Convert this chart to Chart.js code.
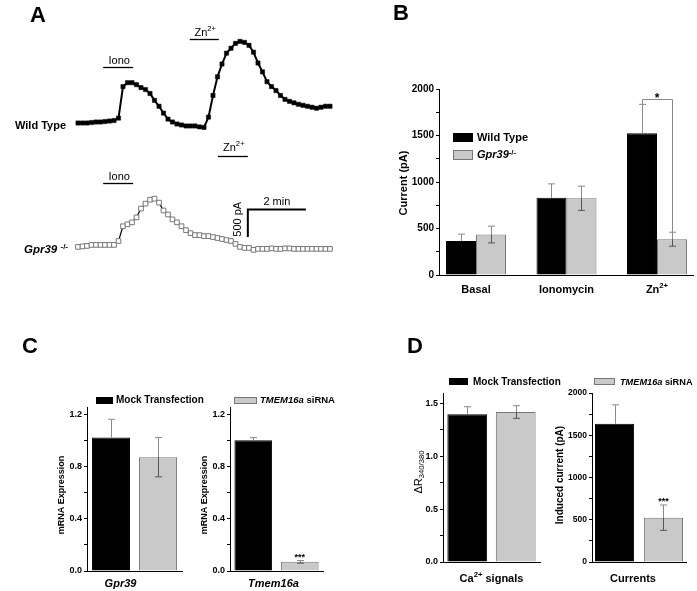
<!DOCTYPE html>
<html>
<head>
<meta charset="utf-8">
<script src="https://cdn.jsdelivr.net/npm/chart.js@4.4.0/dist/chart.umd.min.js"></script>
<style>
  body { margin: 0; background: #fff; }
  #fig { position: relative; width: 697px; height: 591px; overflow: hidden; font-family: "Liberation Sans", Arial, sans-serif; }
  #fig canvas { position: absolute; left: 0; top: 0; }
  .t { position: absolute; white-space: nowrap; color: #000; font-weight: bold; }
  .t sup { font-size: 0.7em; vertical-align: 0.45em; line-height: 0; }
  .letter { font-size: 22px; line-height: 22px; }
  .sw { position: absolute; box-sizing: border-box; }
  .sw.k { background: #000; border: 1px solid #000; }
  .sw.g { background: #c9c9c9; border: 1px solid #777; }
</style>
</head>
<body>
<div id="fig">
  <canvas id="cA" width="697" height="591"></canvas>
  <canvas id="cB" width="697" height="591"></canvas>
  <canvas id="cC1" width="697" height="591"></canvas>
  <canvas id="cC2" width="697" height="591"></canvas>
  <canvas id="cD1" width="697" height="591"></canvas>
  <canvas id="cD2" width="697" height="591"></canvas>

  <div class="t letter" style="left:30px;top:4px">A</div>
  <div class="t letter" style="left:393px;top:2px">B</div>
  <div class="t letter" style="left:22px;top:335px">C</div>
  <div class="t letter" style="left:407px;top:335px">D</div>

  <div class="t" style="left:15px;top:120px;font-size:11px;line-height:11px">Wild Type</div>
  <div class="t" style="left:24px;top:244px;font-size:11.5px;line-height:11px"><i>Gpr39</i> <sup>-/-</sup></div>

  <!-- legend B -->
  <div class="sw k" style="left:453px;top:133px;width:20px;height:9px"></div>
  <div class="t" style="left:477px;top:132px;font-size:11px;line-height:11px">Wild Type</div>
  <div class="sw g" style="left:453px;top:150px;width:20px;height:10px"></div>
  <div class="t" style="left:477px;top:149px;font-size:11px;line-height:11px"><i>Gpr39</i><sup>-/-</sup></div>

  <!-- legend C -->
  <div class="sw k" style="left:96px;top:397px;width:17px;height:7px"></div>
  <div class="t" style="left:116px;top:395px;font-size:10px;line-height:10px">Mock Transfection</div>
  <div class="sw g" style="left:234px;top:397px;width:23px;height:7px"></div>
  <div class="t" style="left:260px;top:395px;font-size:9.5px;line-height:10px"><i>TMEM16a</i> siRNA</div>

  <!-- legend D -->
  <div class="sw k" style="left:449px;top:378px;width:19px;height:7px"></div>
  <div class="t" style="left:473px;top:377px;font-size:10px;line-height:10px">Mock Transfection</div>
  <div class="sw g" style="left:594px;top:378px;width:21px;height:7px"></div>
  <div class="t" style="left:620px;top:377px;font-size:9.2px;line-height:10px"><i>TMEM16a</i> siRNA</div>
</div>

<script>
// ---- data ----
// panel A: whole-cell current traces (pA above starting level), one sample every SAMPLE_S seconds
const SAMPLE_S = 9.3;
const wildTypeTrace = [0, 0, 0, 9, 18, 18, 27, 36, 45, 89,
  661, 732, 732, 696, 643, 607, 536, 411, 304, 179,
  71, 18, -18, -36, -54, -54, -54, -71, -80,
  107, 500, 839, 1071, 1268, 1357, 1446, 1482, 1464, 1411,
  1286, 1089, 929, 750, 661, 589, 500, 429, 393, 366,
  339, 321, 304, 286, 268, 286, 304, 304];
const gpr39Trace = [0, 9, 18, 36, 36, 36, 36, 36, 36, 107,
  375, 411, 446, 536, 696, 786, 857, 875, 804, 661,
  589, 500, 446, 375, 304, 250, 214, 214, 196, 196,
  179, 161, 143, 125, 107, 54, 0, -18, -18, -54,
  -36, -36, -36, -27, -36, -36, -27, -27, -36, -36,
  -36, -36, -36, -36, -36, -36, -36];

// panel B: mean currents (pA)
const bCategories = [[['Basal']], [['Ionomycin']], [['Zn'], ['2+', 'sup']]];
const bWildType = [365, 830, 1525];
const bWildTypeErr = [75, 150, 310];
const bGpr39 = [435, 825, 385];
const bGpr39Err = [90, 130, 75];
const bTicks = [0, 500, 1000, 1500, 2000];

// panel C: mRNA expression (Gpr39, Tmem16a)
const cMock = [1.02, 1.00];
const cMockErr = [0.14, 0.02];
const cSiRNA = [0.87, 0.07];
const cSiRNAErr = [0.15, 0.01];
const cTicks = [0, 0.4, 0.8, 1.2];

// panel D: Ca2+ signals (dR340/380) and induced currents (pA)
const dMock = [1.40, 1635];
const dMockErr = [0.07, 225];
const dSiRNA = [1.42, 525];
const dSiRNAErr = [0.06, 150];
const d1Ticks = [0, 0.5, 1.0, 1.5];
const d2Ticks = [0, 500, 1000, 1500, 2000];

// ---- helpers ----
const W = 697, H = 591;
const FONT = '"Liberation Sans", Arial, sans-serif';
const GREY = '#c9c9c9';

// draws text made of parts like [['Zn'], ['2+', 'sup']] centred on (x, y)
function richText(ctx, parts, x, y, size, opt = {}) {
  const weight = opt.weight || 'bold';
  const fontOf = (k, s) => (k.includes('i') ? 'italic ' : '') + weight + ' ' + s + 'px ' + FONT;
  const items = parts.map(([t, kind = '']) => {
    const k = kind.split(' ');
    const small = k.includes('sup') || k.includes('sub');
    const s = small ? size * 0.7 : size;
    ctx.font = fontOf(k, s);
    return { t, k, s, w: ctx.measureText(t).width };
  });
  const total = items.reduce((a, b) => a + b.w, 0);
  ctx.save();
  ctx.translate(x, y);
  if (opt.rotate) ctx.rotate(opt.rotate);
  ctx.fillStyle = '#000';
  ctx.textAlign = 'left';
  ctx.textBaseline = 'alphabetic';
  let cx = opt.align === 'left' ? 0 : -total / 2;
  items.forEach(it => {
    ctx.font = fontOf(it.k, it.s);
    let dy = size * 0.36;
    if (it.k.includes('sup')) dy -= size * 0.42;
    if (it.k.includes('sub')) dy += size * 0.22;
    ctx.fillText(it.t, cx, dy);
    cx += it.w;
  });
  ctx.restore();
}

const errorBars = {
  id: 'errorBars',
  afterDatasetsDraw(chart) {
    const ctx = chart.ctx, y = chart.scales.y;
    chart.data.datasets.forEach((ds, di) => {
      chart.getDatasetMeta(di).data.forEach((bar, i) => {
        const v = ds.data[i].y, e = ds.errors[i];
        const yv = y.getPixelForValue(v), yt = y.getPixelForValue(v + e), yb = y.getPixelForValue(v - e);
        const x = Math.round(bar.x) + 0.5, cap = 3.5;
        ctx.save();
        ctx.lineWidth = 1;
        ctx.strokeStyle = '#8a8a8a';
        ctx.beginPath();
        ctx.moveTo(x, yv); ctx.lineTo(x, yt);
        ctx.moveTo(x - cap, yt); ctx.lineTo(x + cap, yt);
        ctx.stroke();
        if (ds.innerErr) {
          ctx.strokeStyle = ds.innerErr;
          ctx.beginPath();
          ctx.moveTo(x, yv); ctx.lineTo(x, yb);
          ctx.moveTo(x - cap, yb); ctx.lineTo(x + cap, yb);
          ctx.stroke();
        }
        ctx.restore();
      });
    });
  }
};

function barChart(id, o) {
  const datasets = o.series.map(s => ({
    data: s.values.map((v, i) => ({ x: i, y: v })),
    errors: s.errors,
    innerErr: s.innerErr,
    backgroundColor: s.fill,
    borderColor: s.edge,
    borderWidth: 1,
    categoryPercentage: o.catPct,
    barPercentage: o.barPct
  }));
  // minor ticks halfway between labelled ones
  const allTicks = [];
  o.major.forEach((v, k) => {
    allTicks.push(v);
    if (k < o.major.length - 1) allTicks.push((v + o.major[k + 1]) / 2);
  });
  return new Chart(document.getElementById(id), {
    type: 'bar',
    data: { datasets },
    options: {
      responsive: false, animation: false, events: [], devicePixelRatio: 1,
      layout: { padding: { left: 0, top: o.area.t, right: W - o.area.r, bottom: 0 } },
      plugins: { legend: { display: false }, tooltip: { enabled: false } },
      scales: {
        x: {
          type: 'linear', min: o.xMin, max: o.xMax, offset: false,
          afterFit: s => { s.height = H - o.area.b; },
          afterBuildTicks: s => { s.ticks = o.labels.map((_, i) => ({ value: i })); },
          ticks: { display: false },
          grid: { display: false, offset: false },
          border: { display: true, color: '#000', width: 1 }
        },
        y: {
          min: o.yMin, max: o.yMax,
          afterFit: s => { s.width = o.area.l; },
          afterBuildTicks: s => { s.ticks = allTicks.map(v => ({ value: v })); },
          ticks: {
            autoSkip: false, padding: 2, color: '#000',
            font: { family: FONT, weight: 'bold', size: o.tickSize },
            callback: v => (o.major.includes(v) ? o.fmt(v) : '')
          },
          grid: { drawOnChartArea: false, drawTicks: true, tickLength: 3, color: '#000' },
          border: { display: true, color: '#000', width: 1 }
        }
      }
    },
    plugins: [errorBars, {
      id: 'texts',
      afterDraw(chart) {
        const ctx = chart.ctx, xs = chart.scales.x;
        richText(ctx, o.yTitle, o.yTitleAt[0], o.yTitleAt[1], o.yTitleSize,
          { rotate: -Math.PI / 2, weight: o.yTitleWeight });
        o.labels.forEach((parts, i) =>
          richText(ctx, parts, xs.getPixelForValue(i) + (o.labelDx || 0), o.labelY, o.labelSize));
        if (o.extra) o.extra(chart);
      }
    }]
  });
}

function stars(chart, di, i, text, size) {
  const ctx = chart.ctx, bar = chart.getDatasetMeta(di).data[i];
  const ds = chart.data.datasets[di];
  const top = chart.scales.y.getPixelForValue(ds.data[i].y + ds.errors[i]);
  ctx.save();
  ctx.fillStyle = '#000';
  ctx.font = 'bold ' + size + 'px ' + FONT;
  ctx.textAlign = 'center';
  ctx.textBaseline = 'alphabetic';
  ctx.fillText(text, bar.x, top - 1);
  ctx.restore();
}

// ---- panel A: traces ----
const PA_PER_PX = 500 / 28;
const traceMarks = {
  id: 'traceMarks',
  afterDraw(chart) {
    const { ctx, scales: { x, y, y2 } } = chart;
    const stim = [
      { s: y, t0: 52, t1: 114, v: 1018, gap: 3.5, label: [['Iono']] },
      { s: y, t0: 231, t1: 291, v: 1518, gap: 3.5, label: [['Zn'], ['2+', 'sup']] },
      { s: y2, t0: 52, t1: 114, v: 1161, gap: 4, label: [['Iono']] },
      { s: y2, t0: 289, t1: 351, v: 1643, gap: 5.5, label: [['Zn'], ['2+', 'sup']] }
    ];
    ctx.save();
    ctx.strokeStyle = '#000';
    stim.forEach(b => {
      const py = Math.round(b.s.getPixelForValue(b.v)) + 0.5;
      const x0 = x.getPixelForValue(b.t0), x1 = x.getPixelForValue(b.t1);
      ctx.lineWidth = 1.3;
      ctx.beginPath(); ctx.moveTo(x0, py); ctx.lineTo(x1, py); ctx.stroke();
      richText(ctx, b.label, (x0 + x1) / 2 + 1, py - b.gap - 11 * 0.36, 11, { weight: 'normal' });
    });
    // scale bar: 500 pA x 2 min
    const sx = x.getPixelForValue(351), sx2 = x.getPixelForValue(351 + 120);
    const sy = y2.getPixelForValue(179), sy2 = y2.getPixelForValue(179 + 500);
    ctx.lineWidth = 2;
    ctx.beginPath(); ctx.moveTo(sx, sy); ctx.lineTo(sx, sy2); ctx.lineTo(sx2, sy2); ctx.stroke();
    richText(ctx, [['2 min']], (sx + sx2) / 2, sy2 - 8, 11, { weight: 'normal' });
    richText(ctx, [['500 pA']], sx - 11, (sy + sy2) / 2 - 4, 11, { weight: 'normal', rotate: -Math.PI / 2 });
    ctx.restore();
  }
};

new Chart(document.getElementById('cA'), {
  type: 'line',
  data: {
    datasets: [
      {
        data: wildTypeTrace.map((v, i) => ({ x: i * SAMPLE_S, y: v })),
        yAxisID: 'y', clip: false,
        borderColor: '#000', borderWidth: 2,
        pointStyle: 'rect', pointRadius: 3,
        pointBackgroundColor: '#000', pointBorderColor: '#000', pointBorderWidth: 0.5
      },
      {
        data: gpr39Trace.map((v, i) => ({ x: i * SAMPLE_S, y: v })),
        yAxisID: 'y2', clip: false,
        borderColor: '#000', borderWidth: 1.2,
        pointStyle: 'rect', pointRadius: 3.3,
        pointBackgroundColor: '#fff', pointBorderColor: '#777', pointBorderWidth: 1
      }
    ]
  },
  options: {
    responsive: false, animation: false, events: [], devicePixelRatio: 1,
    layout: { padding: { left: 78, right: W - 330, top: 0, bottom: H - 300 } },
    plugins: { legend: { display: false }, tooltip: { enabled: false } },
    scales: {
      x: { type: 'linear', display: false, min: 0, max: (wildTypeTrace.length - 1) * SAMPLE_S },
      y: { display: false, max: 120 * PA_PER_PX, min: 120 * PA_PER_PX - 300 * PA_PER_PX },
      y2: { display: false, max: 246 * PA_PER_PX, min: 246 * PA_PER_PX - 300 * PA_PER_PX }
    }
  },
  plugins: [traceMarks]
});

// ---- panel B ----
barChart('cB', {
  area: { l: 439, t: 89, r: 693, b: 275 },
  xMin: -0.409, xMax: 2.398, catPct: 0.663, barPct: 1,
  labels: bCategories, labelY: 289, labelSize: 11,
  yMin: 0, yMax: 2000, major: bTicks, fmt: v => String(v), tickSize: 10,
  yTitle: [['Current (pA)']], yTitleAt: [403, 183], yTitleSize: 11,
  series: [
    { values: bWildType, errors: bWildTypeErr, fill: '#000', edge: '#000' },
    { values: bGpr39, errors: bGpr39Err, fill: GREY, edge: '#777', innerErr: '#555' }
  ],
  extra(chart) {
    const { ctx, scales: { y } } = chart;
    const a = chart.getDatasetMeta(0).data[2], b = chart.getDatasetMeta(1).data[2];
    const top = Math.round(y.getPixelForValue(1890)) + 0.5;
    ctx.save();
    ctx.strokeStyle = '#8a8a8a';
    ctx.lineWidth = 1;
    ctx.beginPath();
    ctx.moveTo(Math.round(a.x) + 0.5, y.getPixelForValue(bWildType[2] + bWildTypeErr[2]));
    ctx.lineTo(Math.round(a.x) + 0.5, top);
    ctx.lineTo(Math.round(b.x) + 0.5, top);
    ctx.lineTo(Math.round(b.x) + 0.5, y.getPixelForValue(bGpr39[2] + bGpr39Err[2]));
    ctx.stroke();
    ctx.fillStyle = '#000';
    ctx.font = 'bold 12px ' + FONT;
    ctx.textAlign = 'center';
    ctx.fillText('*', (a.x + b.x) / 2, top + 2);
    ctx.restore();
  }
});

// ---- panel C ----
barChart('cC1', {
  area: { l: 87, t: 407.5, r: 182, b: 571 },
  xMin: -0.5, xMax: 0.5, catPct: 0.99, barPct: 0.81,
  labels: [[['Gpr39', 'i']]], labelY: 583, labelSize: 11, labelDx: -14,
  yMin: 0, yMax: 1.25, major: cTicks, fmt: v => v.toFixed(1), tickSize: 9,
  yTitle: [['mRNA Expression']], yTitleAt: [61, 495], yTitleSize: 9,
  series: [
    { values: [cMock[0]], errors: [cMockErr[0]], fill: '#000', edge: '#000' },
    { values: [cSiRNA[0]], errors: [cSiRNAErr[0]], fill: GREY, edge: '#777', innerErr: '#555' }
  ]
});

barChart('cC2', {
  area: { l: 230, t: 407.5, r: 323, b: 571 },
  xMin: -0.5, xMax: 0.5, catPct: 1.0, barPct: 0.81,
  labels: [[['Tmem16a', 'i']]], labelY: 583, labelSize: 11, labelDx: -3,
  yMin: 0, yMax: 1.25, major: cTicks, fmt: v => v.toFixed(1), tickSize: 9,
  yTitle: [['mRNA Expression']], yTitleAt: [204, 495], yTitleSize: 9,
  series: [
    { values: [cMock[1]], errors: [cMockErr[1]], fill: '#000', edge: '#000' },
    { values: [cSiRNA[1]], errors: [cSiRNAErr[1]], fill: GREY, edge: '#777', innerErr: '#555' }
  ],
  extra: c => stars(c, 1, 0, '***', 9)
});

// ---- panel D ----
barChart('cD1', {
  area: { l: 443, t: 393, r: 540, b: 562 },
  xMin: -0.5, xMax: 0.5, catPct: 1.0, barPct: 0.82,
  labels: [[['Ca'], ['2+', 'sup'], [' signals']]], labelY: 578, labelSize: 11,
  yMin: 0, yMax: 1.6, major: d1Ticks, fmt: v => v.toFixed(1), tickSize: 9,
  yTitle: [['\u0394R'], ['340/380', 'sub']], yTitleAt: [418, 472], yTitleSize: 11, yTitleWeight: 'normal',
  series: [
    { values: [dMock[0]], errors: [dMockErr[0]], fill: '#000', edge: '#000' },
    { values: [dSiRNA[0]], errors: [dSiRNAErr[0]], fill: GREY, edge: '#777', innerErr: '#555' }
  ]
});

barChart('cD2', {
  area: { l: 592, t: 393, r: 686, b: 562 },
  xMin: -0.5, xMax: 0.5, catPct: 1.04, barPct: 0.8,
  labels: [[['Currents']]], labelY: 578, labelSize: 11, labelDx: -6,
  yMin: 0, yMax: 2000, major: d2Ticks, fmt: v => String(v), tickSize: 8.5,
  yTitle: [['Induced current (pA)']], yTitleAt: [559, 475], yTitleSize: 10,
  series: [
    { values: [dMock[1]], errors: [dMockErr[1]], fill: '#000', edge: '#000' },
    { values: [dSiRNA[1]], errors: [dSiRNAErr[1]], fill: GREY, edge: '#777', innerErr: '#555' }
  ],
  extra: c => stars(c, 1, 0, '***', 9)
});
</script>
</body>
</html>
